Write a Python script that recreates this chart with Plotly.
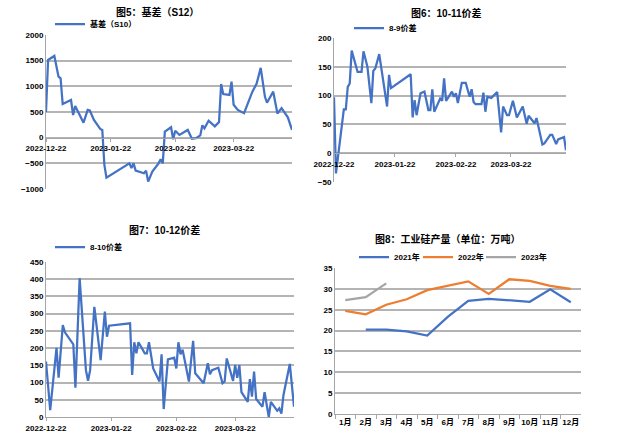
import plotly.graph_objects as go

# ---------------- data ----------------
# Panel 1: 基差（S10）
P1_DATES = ["2022-12-22","2022-12-23","2022-12-26","2022-12-28","2022-12-29","2022-12-30",
            "2023-01-03","2023-01-04","2023-01-05","2023-01-09","2023-01-11","2023-01-12",
            "2023-01-14","2023-01-17","2023-01-18","2023-01-19","2023-01-20",
            "2023-01-31","2023-02-01","2023-02-02","2023-02-03","2023-02-07","2023-02-08",
            "2023-02-09","2023-02-11","2023-02-14","2023-02-15","2023-02-16","2023-02-17",
            "2023-02-18","2023-02-20","2023-02-21","2023-02-22","2023-02-24","2023-02-28",
            "2023-03-02","2023-03-04","2023-03-06","2023-03-07","2023-03-08","2023-03-10",
            "2023-03-13","2023-03-15","2023-03-16","2023-03-17","2023-03-20","2023-03-21",
            "2023-03-22","2023-03-24","2023-03-27","2023-03-31","2023-04-02","2023-04-04",
            "2023-04-06","2023-04-07","2023-04-10","2023-04-12","2023-04-14","2023-04-17",
            "2023-04-19"]
P1_VALUES = [500, 1514, 1592, 1189, 1157, 656,
             734, 442, 617, 292, 540, 530,
             345, 170, 150, -530, -780,
             -500, -590, -500, -642, -694, -642,
             -857, -662, -500, -420, -500, 117,
             150, 202, -30, 136, 53, 150,
             -20, -10, 45, 240, 183, 330,
             220, 305, 1045, 850, 832, 1091,
             640, 540, 475, 896, 1050, 1360,
             800, 680, 896, 470, 575, 397,
             150]

# Panel 2: 8-9价差
P2_DATES = ["2022-12-22","2022-12-23","2022-12-27","2022-12-28","2022-12-29","2022-12-30",
            "2022-12-31","2023-01-03","2023-01-05","2023-01-06","2023-01-08","2023-01-10",
            "2023-01-11","2023-01-12","2023-01-14","2023-01-18","2023-01-19","2023-01-20",
            "2023-01-30","2023-01-31","2023-02-01","2023-02-02","2023-02-04","2023-02-06",
            "2023-02-08","2023-02-09","2023-02-10","2023-02-11","2023-02-14","2023-02-15",
            "2023-02-16","2023-02-17","2023-02-20","2023-02-21","2023-02-22","2023-02-23",
            "2023-02-25","2023-02-27","2023-03-01","2023-03-02","2023-03-03","2023-03-04",
            "2023-03-07","2023-03-08","2023-03-09","2023-03-10","2023-03-12","2023-03-15",
            "2023-03-17","2023-03-18","2023-03-20","2023-03-21","2023-03-23","2023-03-25",
            "2023-03-28","2023-03-30","2023-03-31","2023-04-03","2023-04-04","2023-04-07",
            "2023-04-08","2023-04-11","2023-04-12","2023-04-14","2023-04-15","2023-04-18",
            "2023-04-19"]
P2_VALUES = [97, -35, 76, 76, 115, 121,
             178, 141, 141, 177, 150, 87,
             143, 147, 172, 81, 136, 113,
             137, 62, 92, 66, 104, 107,
             75, 75, 111, 72, 95, 91,
             130, 91, 107, 98, 104, 87,
             122, 122, 98, 111, 89, 85,
             85, 105, 72, 98, 96, 106,
             36, 81, 66, 66, 91, 62,
             81, 51, 65, 52, 61, 15,
             17, 32, 32, 16, 24, 28,
             5]

# Panel 3: 8-10价差
P3_DATES = ["2022-12-22","2022-12-24","2022-12-27","2022-12-28","2022-12-30","2022-12-31",
            "2023-01-04","2023-01-05","2023-01-07","2023-01-10","2023-01-11","2023-01-12",
            "2023-01-14","2023-01-17","2023-01-19","2023-01-20","2023-01-21",
            "2023-01-31","2023-02-01","2023-02-02","2023-02-03","2023-02-04","2023-02-07",
            "2023-02-08","2023-02-09","2023-02-11","2023-02-14","2023-02-15","2023-02-16",
            "2023-02-18","2023-02-21","2023-02-22","2023-02-23","2023-02-24","2023-02-25",
            "2023-02-28","2023-03-02","2023-03-03","2023-03-07","2023-03-09","2023-03-10",
            "2023-03-11","2023-03-14","2023-03-16","2023-03-17","2023-03-18","2023-03-21",
            "2023-03-22","2023-03-23","2023-03-24","2023-03-25","2023-03-28","2023-03-29",
            "2023-03-30","2023-03-31","2023-04-01","2023-04-04","2023-04-05","2023-04-07",
            "2023-04-08","2023-04-11","2023-04-12","2023-04-13","2023-04-14","2023-04-17",
            "2023-04-19"]
P3_VALUES = [161, 20, 201, 114, 267, 246,
             211, 85, 403, 136, 105, 136,
             320, 165, 306, 233, 265,
             272, 122, 217, 185, 217, 185,
             185, 217, 141, 103, 182, 23,
             167, 172, 141, 217, 182, 195,
             103, 221, 127, 98, 156, 124,
             136, 143, 98, 103, 170, 105,
             151, 114, 151, 72, 44, 110,
             59, 132, 52, 30, 72, 0,
             44, 18, 25, 10, 64, 154,
             30]

# Panel 4: 工业硅产量（万吨）
MONTHS = ["1月","2月","3月","4月","5月","6月","7月","8月","9月","10月","11月","12月"]
Y2021 = [None, 20.2, 20.2, 19.8, 18.8, 23.3, 27.1, 27.6, 27.3, 26.9, 29.9, 26.8]
Y2022 = [24.7, 23.9, 26.2, 27.5, 29.7, 30.7, 31.8, 28.8, 32.3, 31.9, 30.7, 30.0]
Y2023 = [27.3, 28.0, 31.3]

DATE_TICKS = ["2022-12-22", "2023-01-22", "2023-02-22", "2023-03-22"]
DATE_RANGE = ["2022-12-22", "2023-04-19"]

# ---------------- layout helpers ----------------
W, H = 636, 440
BLUE = "#4472C4"
ORANGE = "#ED7D31"
GRAY = "#A5A5A5"
GRID = "#B4B4B4"
AXIS = "#A6A6A6"
FONT = "Liberation Sans, Arial, Noto Sans CJK SC"


def px_x(a, b):
    return [a / W, b / W]


def px_y(top, bottom):
    return [1 - bottom / H, 1 - top / H]


def yzero(top, bottom, lo, hi):
    ypix = top + (hi - 0) / (hi - lo) * (bottom - top)
    return 1 - ypix / H


fig = go.Figure()

tickfont = dict(family=FONT, size=8, color="#000000", weight="bold")

P1 = (46, 292, 35, 189)
P2 = (334, 566, 38, 182)
P3 = (46, 294, 262, 417)
P4 = (335, 581, 268, 414)

fig.add_trace(go.Scatter(x=P1_DATES, y=P1_VALUES, mode="lines", name="基差（S10）",
                         line=dict(color=BLUE, width=2.25), xaxis="x", yaxis="y",
                         legend="legend"))
fig.add_trace(go.Scatter(x=P2_DATES, y=P2_VALUES, mode="lines", name="8-9价差",
                         line=dict(color=BLUE, width=2.25), xaxis="x2", yaxis="y2",
                         legend="legend2"))
fig.add_trace(go.Scatter(x=P3_DATES, y=P3_VALUES, mode="lines", name="8-10价差",
                         line=dict(color=BLUE, width=2.25), xaxis="x3", yaxis="y3",
                         legend="legend3"))
fig.add_trace(go.Scatter(x=MONTHS, y=Y2021, mode="lines", name="2021年",
                         line=dict(color=BLUE, width=2.25), xaxis="x4", yaxis="y4",
                         legend="legend4", connectgaps=False))
fig.add_trace(go.Scatter(x=MONTHS, y=Y2022, mode="lines", name="2022年",
                         line=dict(color=ORANGE, width=2.25), xaxis="x4", yaxis="y4",
                         legend="legend5"))
fig.add_trace(go.Scatter(x=MONTHS[:len(Y2023)], y=Y2023, mode="lines", name="2023年",
                         line=dict(color=GRAY, width=2.25), xaxis="x4", yaxis="y4",
                         legend="legend6"))


def date_xaxis(rect, lo, hi, at_zero):
    a, b, t, btm = rect
    d = dict(domain=px_x(a, b), type="date", range=DATE_RANGE,
             tickmode="array", tickvals=DATE_TICKS, ticktext=DATE_TICKS,
             showgrid=False, zeroline=False, showline=True, linecolor=AXIS, linewidth=1,
             ticks="outside", ticklen=3, tickcolor=AXIS, tickfont=tickfont,
             tickangle=0, automargin=False)
    if at_zero:
        d.update(anchor="free", position=yzero(t, btm, lo, hi))
    return d


def val_yaxis(rect, lo, hi, dt, xname):
    a, b, t, btm = rect
    return dict(domain=px_y(t, btm), range=[lo, hi], dtick=dt, tick0=0,
                showgrid=True, gridcolor=GRID, gridwidth=1.5, zeroline=False,
                showline=True, linecolor=AXIS, linewidth=1, ticks="",
                tickfont=tickfont, anchor=xname, automargin=False)


fig.update_layout(
    xaxis=dict(**date_xaxis(P1, -1000, 2000, True)),
    yaxis=val_yaxis(P1, -1000, 2000, 500, "x"),
    xaxis2=dict(**date_xaxis(P2, -50, 200, True)),
    yaxis2=val_yaxis(P2, -50, 200, 50, "x2"),
    xaxis3=dict(**date_xaxis(P3, 0, 450, False), anchor="y3"),
    yaxis3=val_yaxis(P3, 0, 450, 50, "x3"),
    xaxis4=dict(domain=px_x(P4[0], P4[1]), type="category", categoryorder="array",
                categoryarray=MONTHS, tickson="boundaries", ticks="outside", ticklen=4,
                tickcolor=AXIS, showgrid=False, showline=True, linecolor=AXIS,
                tickfont=tickfont, anchor="y4", range=[-0.5, 11.5], tickangle=0,
                automargin=False),
    yaxis4=val_yaxis(P4, 0, 35, 5, "x4"),
)


def legend_at(xpix, ypix):
    return dict(x=xpix / W, y=1 - ypix / H, xanchor="left", yanchor="middle",
                orientation="h", bgcolor="rgba(0,0,0,0)", borderwidth=0,
                font=dict(family=FONT, size=8, color="#000000", weight="bold"),
                itemwidth=30, tracegroupgap=0)


fig.update_layout(
    legend=legend_at(50, 24),
    legend2=legend_at(349, 28),
    legend3=legend_at(50, 247),
    legend4=legend_at(354, 257),
    legend5=legend_at(418, 257),
    legend6=legend_at(481, 257),
)

TITLES = [("图5：基差（S12）", 157, 12), ("图6：10-11价差", 446, 13),
          ("图7：10-12价差", 164, 230), ("图8：工业硅产量（单位：万吨）", 448, 239)]
for text, cx, cy in TITLES:
    fig.add_annotation(text=text, x=cx / W, y=1 - cy / H, xref="paper", yref="paper",
                       xanchor="center", yanchor="middle", showarrow=False,
                       font=dict(family=FONT, size=10, color="#000000", weight="bold"))

fig.update_layout(width=W, height=H, margin=dict(l=0, r=0, t=0, b=0, pad=0),
                  paper_bgcolor="white", plot_bgcolor="white", showlegend=True,
                  font=dict(family=FONT))

fig.write_html("out.html")
